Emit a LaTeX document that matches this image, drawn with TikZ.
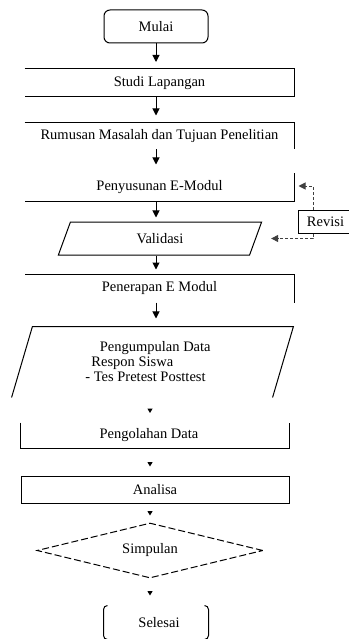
\documentclass[tikz,border=0pt]{standalone}
\usepackage{fontspec}
\setmainfont{Liberation Serif}
\usetikzlibrary{arrows.meta,shapes.geometric}

\begin{document}
\begin{tikzpicture}[x=1pt,y=-1pt,line width=1pt,
  >={Triangle[width=7pt,length=7pt]},
  every node/.style={font=\fontsize{14.5}{15}\selectfont,inner sep=0pt},
  stepbox/.style={rectangle,minimum width=269pt,minimum height=27pt},
  iobox/.style={trapezium,trapezium stretches=true},
  flow/.style={->,shorten >=7pt},
  tiny/.style={-{Triangle[width=5pt,length=4.5pt]}},
  fb/.style={->,densely dashed,black!75}]
  \useasboundingbox (0,0) rectangle (348,639);

  % upper part
  \node[draw,rounded corners=6pt,minimum width=104pt,minimum height=33pt] (mulai) at (156,26.5) {Mulai};
  \node[stepbox] (studi) at (159.5,83) {Studi Lapangan};
  \node[stepbox,minimum height=26pt] (rumusan) at (159.5,136) {Rumusan Masalah dan Tujuan Penelitian};
  \node[stepbox] (susun) at (159.5,187.5) {Penyusunan E-Modul};
  \node[iobox,draw,trapezium left angle=73,trapezium right angle=107,
    minimum width=204pt,minimum height=33pt] (validasi) at (160,238.5) {Validasi};
  \node[stepbox] (terap) at (159.5,288.5) {Penerapan E Modul};
  \node[draw,minimum width=52pt,minimum height=23pt] (revisi) at (324,221.5) {\hspace*{3pt}Revisi};

  \draw (studi.north west) -- (studi.north east) -- (studi.south east) -- (studi.south west);
  \draw (rumusan.north west) -- (rumusan.north east) -- (rumusan.south east);
  \draw (susun.north east) -- (susun.south east) -- (susun.south west);
  \draw (terap.south east) -- (terap.north east) -- (terap.north west);

  % lower part
  \node[iobox,trapezium left angle=74,trapezium right angle=106,
    minimum width=281pt,minimum height=70pt,align=left] (kumpul) at (152.5,362)
    {\quad Pengumpulan Data\\\ \,Respon Siswa\\- Tes Pretest Posttest\hspace*{14pt}};
  \draw (kumpul.bottom left corner) -- (kumpul.top left corner)
    -- (kumpul.top right corner) -- (kumpul.bottom right corner);
  \node[rectangle,minimum width=268pt,minimum height=25pt] (olah) at (155,435.5) {Pengolahan Data\hspace*{12pt}};
  \draw (olah.north west) -- (olah.south west) -- (olah.south east) -- (olah.north east);
  \node[draw,minimum width=268pt,minimum height=27pt] (analisa) at (155,489.5) {Analisa};
  \node[diamond,draw,aspect=4,dash pattern=on 7pt off 3pt,minimum width=226pt,minimum height=55pt]
    (simpulan) at (150,550.5) {Simpulan};
  \node[minimum width=104pt,minimum height=33pt] (selesai) at (156,622.5) {\hspace*{6pt}Selesai};
  \draw[rounded corners=4pt] ([xshift=4pt]selesai.north west) -- (selesai.north west)
    -- (selesai.south west) -- ([xshift=4pt]selesai.south west);
  \draw[rounded corners=4pt] ([xshift=-4pt]selesai.north east) -- (selesai.north east)
    -- (selesai.south east) -- ([xshift=-4pt]selesai.south east);

  % connectors
  \draw[flow] (mulai) -- (mulai |- studi.north);
  \draw[flow] (mulai |- studi.south) -- (mulai |- rumusan.north);
  \draw[flow,shorten >=9pt] (mulai |- rumusan.south) -- (mulai |- susun.north);
  \draw[flow,shorten >=4pt] (mulai |- susun.south) -- (mulai |- validasi.north);
  \draw[flow,shorten >=5pt] (mulai |- validasi.south) -- (mulai |- terap.north);
  \draw[flow,shorten >=8pt] (mulai |- terap.south) -- (mulai |- kumpul.north);
  \draw[tiny,shorten <=11pt,shorten >=9.5pt] (simpulan |- kumpul.south) -- (simpulan |- olah.north);
  \draw[tiny,shorten <=14pt,shorten >=9pt] (simpulan |- olah.south) -- (simpulan |- analisa.north);
  \draw[tiny,shorten <=9pt,shorten >=7pt] (simpulan |- analisa.south) -- (simpulan.north);
  \draw[tiny,shorten <=13pt,shorten >=10pt] (simpulan.south) -- (simpulan |- selesai.north);

  % revisi loop
  \draw[fb] ([xshift=-11pt]revisi.north) |- ([xshift=4pt,yshift=1.5pt]susun.east);
  \draw[fb] ([xshift=-11pt]revisi.south) |- ([xshift=15pt]validasi.east);
\end{tikzpicture}
\end{document}
